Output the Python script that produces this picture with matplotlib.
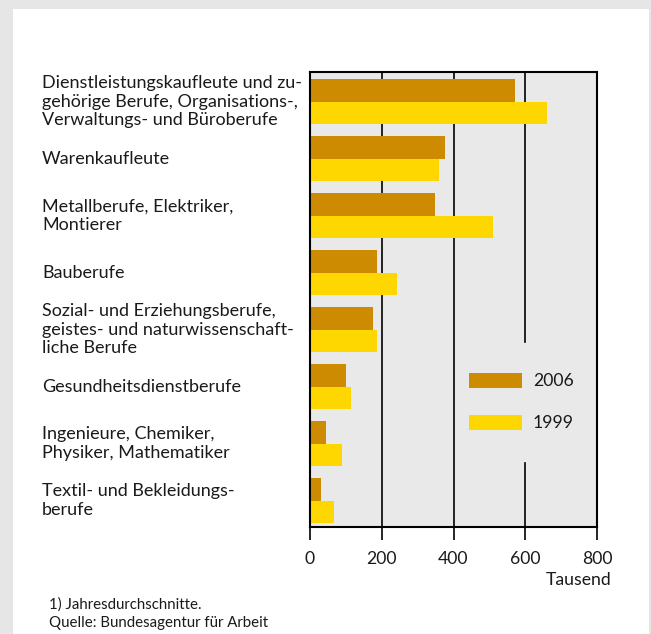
import matplotlib
matplotlib.use("Agg")
import matplotlib.pyplot as plt
from matplotlib.patches import Rectangle

categories = [
    "Dienstleistungskaufleute und zu-\ngehörige Berufe, Organisations-,\nVerwaltungs- und Büroberufe",
    "Warenkaufleute",
    "Metallberufe, Elektriker,\nMontierer",
    "Bauberufe",
    "Sozial- und Erziehungsberufe,\ngeistes- und naturwissenschaft-\nliche Berufe",
    "Gesundheitsdienstberufe",
    "Ingenieure, Chemiker,\nPhysiker, Mathematiker",
    "Textil- und Bekleidungs-\nberufe",
]
values_2006 = [571, 376, 348, 187, 175, 100, 45, 31]
values_1999 = [660, 359, 510, 242, 187, 114, 89, 67]
series_labels = ["2006", "1999"]
xticks = [0, 200, 400, 600, 800]
unit_label = "Tausend"
footnotes = ["1) Jahresdurchschnitte.", "Quelle: Bundesagentur für Arbeit"]

C2006 = "#cc8b00"
C1999 = "#ffd700"
FONT = "Lato"
TXT = "#1a1a1a"

W, H = 651, 634
fig = plt.figure(figsize=(W / 100, H / 100), dpi=100)
fig.patch.set_facecolor("#e6e6e6")
# white panel
fig.patches.append(Rectangle((13 / W, 0), (649 - 13) / W, 1 - 9 / H,
                             transform=fig.transFigure, facecolor="white",
                             edgecolor="none", zorder=-5))

ax = fig.add_axes([310 / W, 1 - 527 / H, (597 - 310) / W, (527 - 72) / H])
ax.set_zorder(1)
ax.set_facecolor("#e9e9e9")

n = len(categories)
pos = list(range(n))
h = 0.397
ax.barh([p - h / 2 for p in pos], values_2006, height=h, color=C2006, zorder=3)
ax.barh([p + h / 2 for p in pos], values_1999, height=h, color=C1999, zorder=3)

ax.set_xlim(0, 800)
ax.set_ylim(n - 1 + 0.46, -0.52)

for v in [200, 400]:
    ax.axvline(v, color="black", lw=1.2, zorder=2)
ax.axvline(600, ymin=0, ymax=0.1407, color="black", lw=1.2, zorder=2)
ax.axvline(600, ymin=0.4066, ymax=1, color="black", lw=1.2, zorder=2)

for s in ax.spines.values():
    s.set_linewidth(1.5)
    s.set_color("black")
    s.set_zorder(5)

ax.set_yticks([])
ax.set_xticks(xticks)
ax.set_xticklabels([str(t) for t in xticks], fontsize=12.7, family=FONT, color=TXT)
ax.tick_params(axis="x", direction="out", length=9.5, width=1.2, pad=8, color="black")

# category labels
for p, lab in zip(pos, categories):
    ax.text(-(310 - 42) / 287 * 800, p, lab, ha="left", va="center",
            fontsize=13, family=FONT, color=TXT, linespacing=1.2,
            transform=ax.transData, clip_on=False)

# legend
leg = [(C2006, series_labels[0], 373), (C1999, series_labels[1], 415)]
for col, lab, ytop in leg:
    fig.patches.append(Rectangle((469 / W, 1 - (ytop + 15) / H), 53 / W, 15 / H,
                                 transform=fig.transFigure, facecolor=col,
                                 edgecolor="none", zorder=10))
    fig.text(533 / W, 1 - (ytop + 8) / H, lab, ha="left", va="center",
             fontsize=12.7, family=FONT, color=TXT, zorder=11)

fig.text(612 / W, 1 - 580 / H, unit_label, ha="right", va="center",
         fontsize=12.7, family=FONT, color=TXT)
fig.text(49 / W, 1 - 605 / H, footnotes[0], ha="left", va="center",
         fontsize=10.8, family=FONT, color=TXT)
fig.text(49 / W, 1 - 623 / H, footnotes[1], ha="left", va="center",
         fontsize=10.8, family=FONT, color=TXT)

fig.savefig("out.png", dpi=100, facecolor=fig.get_facecolor())
